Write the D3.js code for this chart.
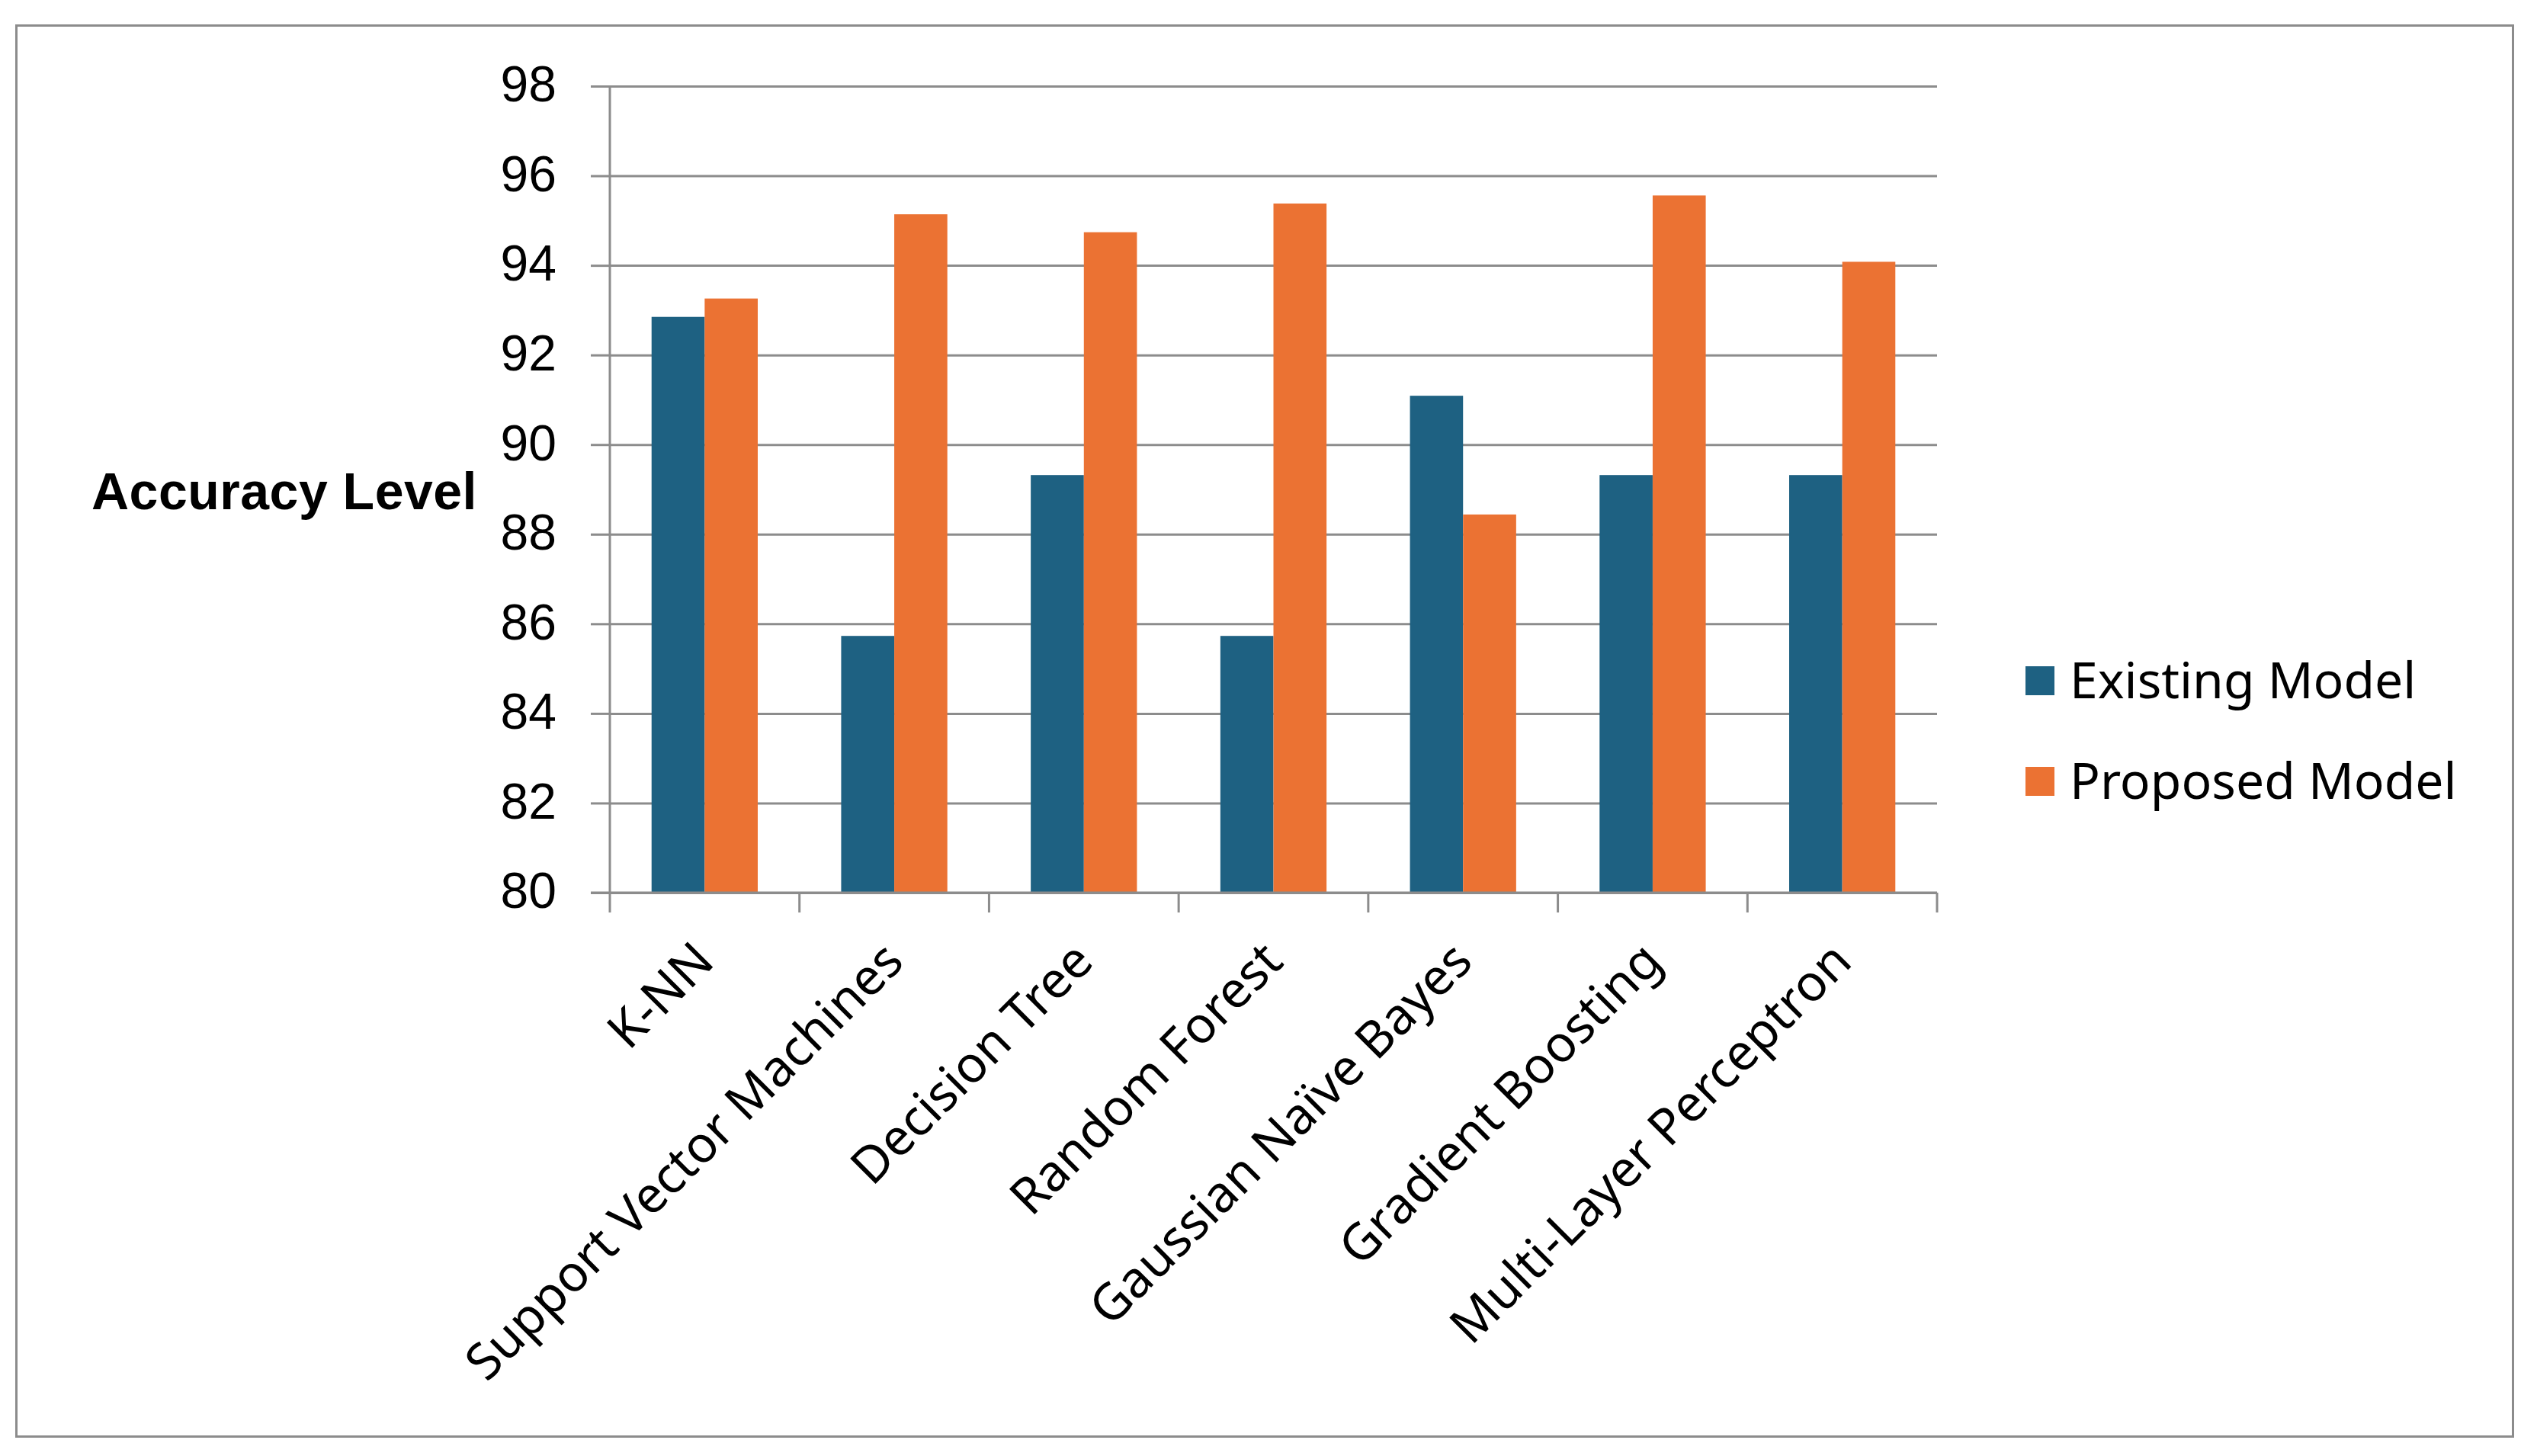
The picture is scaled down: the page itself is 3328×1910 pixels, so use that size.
<!DOCTYPE html>
<html>
<head>
<meta charset="utf-8">
<script src="https://cdn.jsdelivr.net/npm/d3@7"></script>
<style>
  html, body { margin: 0; padding: 0; background: #fff; }
  svg { display: block; }
</style>
</head>
<body>
<svg id="chart" width="3328" height="1910"></svg>
<script>
const categories = ["K-NN", "Support Vector Machines", "Decision Tree", "Random Forest", "Gaussian Naïve Bayes", "Gradient Boosting", "Multi-Layer Perceptron"];
const seriesNames = ["Existing Model", "Proposed Model"];
const existingValues = [92.85, 85.73, 89.32, 85.73, 91.09, 89.32, 89.32];
const proposedValues = [93.26, 95.14, 94.74, 95.38, 88.44, 95.56, 94.08];
const yTicks = [80, 82, 84, 86, 88, 90, 92, 94, 96, 98];
const yTitle = "Accuracy Level";

(function () {
const colors = ["#1e6182", "#eb7233"];
const gridColor = "#8c8c8c";
const tickFont = "'Liberation Sans', Arial, sans-serif";
const labelFont = "'Noto Sans', 'Liberation Sans', sans-serif";

const svg = d3.select("#chart");

// outer border
svg.append("rect")
  .attr("x", 21.5).attr("y", 33.5)
  .attr("width", 3275).attr("height", 1851)
  .attr("fill", "none").attr("stroke", gridColor).attr("stroke-width", 3);

const pL = 800, pR = 2541, pT = 113, pB = 1171;

const x0 = d3.scaleBand().domain(categories).range([pL, pR]).paddingInner(0.44).paddingOuter(0.22);
const x1 = d3.scaleBand().domain(seriesNames).range([0, x0.bandwidth()]);
const y = d3.scaleLinear().domain([80, 98]).range([pB, pT]);

// gridlines
const yAxis = d3.axisLeft(y).tickValues(yTicks).tickSize(-(pR - pL)).tickFormat(d => d).tickPadding(70);
const gy = svg.append("g").attr("transform", `translate(${pL},0)`).call(yAxis);
gy.select(".domain").remove();
gy.selectAll(".tick line").attr("stroke", gridColor).attr("stroke-width", 3);
gy.selectAll(".tick").append("line")
  .attr("x1", -25).attr("x2", 0).attr("stroke", gridColor).attr("stroke-width", 3);
gy.selectAll(".tick text")
  .attr("font-family", tickFont).attr("font-size", 66).attr("fill", "#000")
  .attr("dy", "0.3em");

// bars
const data = categories.map((c, i) => ({ c, vals: [existingValues[i], proposedValues[i]] }));
const groups = svg.append("g").selectAll("g").data(data).join("g")
  .attr("transform", d => `translate(${x0(d.c)},0)`);
groups.selectAll("rect").data(d => d.vals.map((v, j) => ({ s: seriesNames[j], v, j })))
  .join("rect")
  .attr("x", d => x1(d.s))
  .attr("y", d => y(d.v))
  .attr("width", x1.bandwidth())
  .attr("height", d => y(80) - y(d.v))
  .attr("fill", d => colors[d.j]);

// y axis line
svg.append("line").attr("x1", pL).attr("x2", pL).attr("y1", pT).attr("y2", pB)
  .attr("stroke", gridColor).attr("stroke-width", 3);

// x axis (category boundaries ticks)
const step = x0.step();
const boundaries = d3.range(categories.length + 1).map(i => pL + i * step);
svg.append("line").attr("x1", pL - 25).attr("x2", pR).attr("y1", pB).attr("y2", pB)
  .attr("stroke", gridColor).attr("stroke-width", 3);
svg.append("g").selectAll("line").data(boundaries).join("line")
  .attr("x1", d => d).attr("x2", d => d).attr("y1", pB).attr("y2", pB + 26)
  .attr("stroke", gridColor).attr("stroke-width", 3);

// category labels
svg.append("g").selectAll("text").data(categories).join("text")
  .attr("transform", d => `translate(${x0(d) + x0.bandwidth() / 2 - 1},${pB + 77}) rotate(-45)`)
  .attr("text-anchor", "end")
  .attr("dy", "0.35em")
  .attr("font-family", labelFont).attr("font-size", 66).attr("fill", "#000")
  .text(d => d);

// y title
svg.append("text")
  .attr("x", 120).attr("y", 668)
  .attr("font-family", tickFont).attr("font-weight", "bold").attr("font-size", 68)
  .attr("letter-spacing", 0.5)
  .attr("fill", "#000")
  .text(yTitle);

// legend
const legend = svg.append("g").selectAll("g").data(seriesNames).join("g")
  .attr("transform", (d, i) => `translate(2657,${893 + i * 132})`);
legend.append("rect").attr("x", 0).attr("y", -19).attr("width", 38).attr("height", 38)
  .attr("fill", (d, i) => colors[i]);
legend.append("text").attr("x", 58).attr("y", 0).attr("dy", "0.35em")
  .attr("font-family", labelFont).attr("font-size", 66).attr("fill", "#000")
  .text(d => d);
})();
</script>
</body>
</html>
